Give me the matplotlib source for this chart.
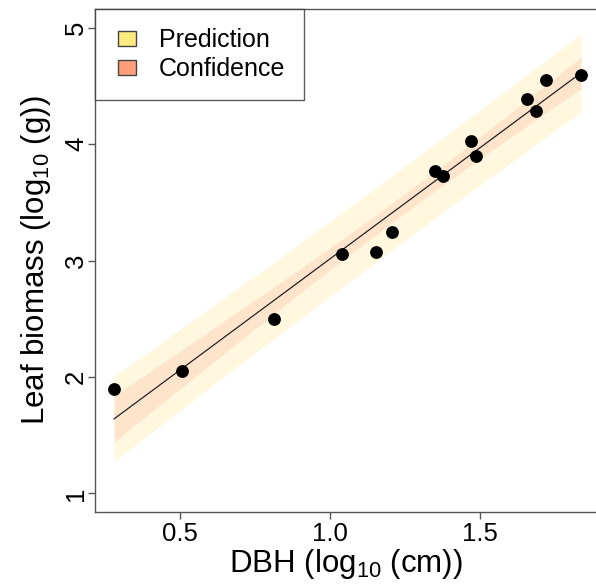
import numpy as np
import matplotlib
matplotlib.use("Agg")
import matplotlib.pyplot as plt
from matplotlib.patches import Patch, Rectangle
from matplotlib.legend_handler import HandlerPatch

plt.rcParams['font.family'] = ['Liberation Sans', 'DejaVu Sans']
plt.rcParams['mathtext.default'] = 'regular'

# Data (log10 DBH in cm, log10 leaf biomass in g)
dbh_log = [0.280, 0.507, 0.813, 1.040, 1.152, 1.206, 1.350, 1.378,
           1.471, 1.486, 1.656, 1.688, 1.721, 1.837]
leaf_log = [1.893, 2.047, 2.494, 3.052, 3.070, 3.246, 3.766, 3.730,
            4.030, 3.900, 4.390, 4.280, 4.547, 4.595]
x_ticks = [0.5, 1.0, 1.5]
x_tick_labels = ["0.5", "1.0", "1.5"]
y_ticks = [1, 2, 3, 4, 5]
legend_labels = ["Prediction", "Confidence"]
T_975_DF12 = 2.1788  # t quantile for 95% intervals, n-2 = 12 df

x = np.array(dbh_log)
y = np.array(leaf_log)
n = len(x)
b1, b0 = np.polyfit(x, y, 1)
resid = y - (b0 + b1 * x)
s = np.sqrt(np.sum(resid ** 2) / (n - 2))
xbar = x.mean()
sxx = np.sum((x - xbar) ** 2)

xg = np.linspace(x.min(), x.max(), 200)
yg = b0 + b1 * xg
se_conf = s * np.sqrt(1.0 / n + (xg - xbar) ** 2 / sxx)
se_pred = s * np.sqrt(1.0 + 1.0 / n + (xg - xbar) ** 2 / sxx)

fig = plt.figure(figsize=(5.96, 5.85), dpi=100)
ax = fig.add_axes([95 / 596, 73 / 585, 1 - 95 / 596, (512 - 9) / 585])

pred_col = "#FFF8DE"
conf_col = "#FFE4CC"
ax.fill_between(xg, yg - T_975_DF12 * se_pred, yg + T_975_DF12 * se_pred,
                color=pred_col, lw=0, zorder=1)
ax.fill_between(xg, yg - T_975_DF12 * se_conf, yg + T_975_DF12 * se_conf,
                color=conf_col, lw=0, zorder=2)
ax.plot(xg, yg, color="#222222", lw=0.9, zorder=3)
ax.scatter(x, y, s=85, color="black", zorder=4, linewidths=0)

ax.set_xlim(0.2165, 1.8867)
ax.set_ylim(0.84, 5.16)
ax.set_xticks(x_ticks)
ax.set_xticklabels(x_tick_labels)
ax.set_yticks(y_ticks)
ax.set_yticklabels([str(v) for v in y_ticks], rotation=90, va="center")

spine_col = "#555555"
for side in ["left", "bottom", "top"]:
    ax.spines[side].set_color(spine_col)
    ax.spines[side].set_linewidth(1.0)
ax.spines["right"].set_visible(False)
ax.tick_params(axis="both", direction="out", length=5, width=1.0,
               color=spine_col, labelsize=18.5, labelcolor="black")
ax.tick_params(axis="x", pad=2)
ax.tick_params(axis="y", pad=0)

ax.set_xlabel(r"DBH (log$_{10}$ (cm))", fontsize=22.5, labelpad=1)
ax.set_ylabel(r"Leaf biomass (log$_{10}$ (g))", fontsize=22.5, labelpad=8)


def square_at_right(legend, orig_handle, xdescent, ydescent, width, height,
                    fontsize):
    w = 18 * 0.72
    h = 15 * 0.72
    return Rectangle((width - xdescent - w, -ydescent + (height - h) / 2), w, h)


handles = [Patch(facecolor="#FFEA80", edgecolor="#444444", lw=1.0),
           Patch(facecolor="#FF9F7A", edgecolor="#444444", lw=1.0)]
leg = ax.legend(handles, legend_labels, loc="upper left", fontsize=18,
                frameon=True, fancybox=False, borderaxespad=0,
                handlelength=0.88, handleheight=0.7, handletextpad=0.92,
                labelspacing=0.2, borderpad=0.75,
                handler_map={Patch: HandlerPatch(patch_func=square_at_right)})
leg.get_frame().set_edgecolor("#333333")
leg.get_frame().set_linewidth(1.0)
leg.set_zorder(5)

fig.savefig("out.png", dpi=100)
